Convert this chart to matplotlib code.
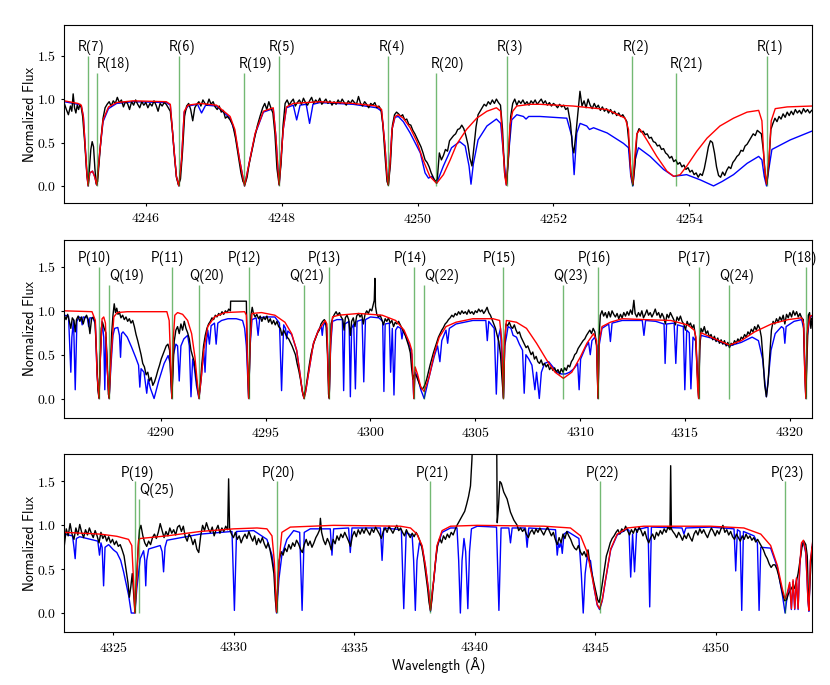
import numpy as np
import matplotlib.pyplot as plt
from matplotlib.ticker import MultipleLocator

plt.rcParams['font.family'] = 'cmr10'
plt.rcParams['axes.formatter.use_mathtext'] = True
plt.rcParams['axes.unicode_minus'] = False
TEXT_FONT = ['cmss10', 'DejaVu Sans']

# ---------------- panel 1 : R branch ----------------
lines1_wl = [4245.15, 4245.28, 4246.49, 4247.45, 4247.96, 4249.57, 4250.27, 4251.31, 4253.16, 4253.80, 4255.14]
lines1_lab = ['R(7)', 'R(18)', 'R(6)', 'R(19)', 'R(5)', 'R(4)', 'R(20)', 'R(3)', 'R(2)', 'R(21)', 'R(1)']
lines1_top = [1.5, 1.3, 1.5, 1.3, 1.5, 1.5, 1.3, 1.5, 1.5, 1.3, 1.5]
lines1_labx = [4245.20, 4245.53, 4246.53, 4247.61, 4248.00, 4249.62, 4250.44, 4251.36, 4253.22, 4253.96, 4255.19]

red1 = [(4244.80, 0.98), (4245.00, 0.95), (4245.05, 0.93), (4245.08, 0.80), (4245.12, 0.30), (4245.135, 0.11),
        (4245.15, 0.00), (4245.175, 0.15), (4245.215, 0.17), (4245.245, 0.11), (4245.278, 0.01), (4245.32, 0.38),
        (4245.37, 0.76), (4245.45, 0.91), (4245.57, 0.96), (4245.81, 0.98), (4246.30, 0.97), (4246.36, 0.94),
        (4246.41, 0.46), (4246.45, 0.11), (4246.486, 0.00), (4246.525, 0.30), (4246.565, 0.86), (4246.62, 0.93),
        (4246.80, 0.95), (4247.04, 0.93), (4247.24, 0.80), (4247.31, 0.65), (4247.38, 0.30), (4247.453, 0.00),
        (4247.53, 0.30), (4247.61, 0.61), (4247.73, 0.86), (4247.875, 0.90), (4247.914, 0.57), (4247.944, 0.20),
        (4247.963, 0.01), (4247.988, 0.30), (4248.022, 0.65), (4248.07, 0.91), (4248.17, 0.95), (4248.56, 0.97),
        (4249.05, 0.95), (4249.40, 0.92), (4249.47, 0.88), (4249.52, 0.46), (4249.549, 0.12), (4249.569, 0.01),
        (4249.593, 0.25), (4249.623, 0.65), (4249.667, 0.80), (4249.716, 0.82), (4249.79, 0.78), (4249.89, 0.67),
        (4249.99, 0.51), (4250.08, 0.30), (4250.18, 0.11), (4250.28, 0.03), (4250.38, 0.13), (4250.48, 0.30),
        (4250.575, 0.48), (4250.72, 0.65), (4250.87, 0.78), (4251.02, 0.86), (4251.16, 0.90), (4251.223, 0.86),
        (4251.262, 0.38), (4251.287, 0.10), (4251.306, 0.01), (4251.331, 0.30), (4251.36, 0.70), (4251.40, 0.86),
        (4251.46, 0.92), (4251.66, 0.94), (4251.80, 0.94), (4252.29, 0.92), (4252.79, 0.88), (4253.055, 0.78),
        (4253.104, 0.65), (4253.138, 0.15), (4253.168, 0.02), (4253.192, 0.30), (4253.227, 0.60), (4253.276, 0.65),
        (4253.374, 0.53), (4253.52, 0.34), (4253.67, 0.17), (4253.77, 0.11), (4253.865, 0.13), (4253.963, 0.23),
        (4254.11, 0.40), (4254.26, 0.55), (4254.45, 0.69), (4254.65, 0.78), (4254.85, 0.85), (4255.02, 0.87),
        (4255.068, 0.75), (4255.102, 0.25), (4255.136, 0.02), (4255.171, 0.30), (4255.205, 0.75), (4255.264, 0.89),
        (4255.44, 0.91), (4255.80, 0.92)]

blue1 = [(4244.80, 0.97), (4245.00, 0.94), (4245.05, 0.92), (4245.08, 0.80), (4245.12, 0.30), (4245.135, 0.11),
         (4245.15, 0.00), (4245.175, 0.15), (4245.215, 0.17), (4245.245, 0.11), (4245.278, 0.01), (4245.32, 0.38),
         (4245.37, 0.74), (4245.45, 0.89), (4245.57, 0.95), (4245.81, 0.97), (4246.30, 0.96), (4246.36, 0.93),
         (4246.41, 0.46), (4246.45, 0.11), (4246.486, 0.00), (4246.525, 0.30), (4246.565, 0.85), (4246.62, 0.92),
         (4246.76, 0.94), (4246.82, 0.84), (4246.88, 0.93), (4247.04, 0.92), (4247.24, 0.78), (4247.31, 0.62),
         (4247.38, 0.30), (4247.453, 0.00), (4247.53, 0.30), (4247.61, 0.60), (4247.73, 0.85), (4247.875, 0.89),
         (4247.914, 0.57), (4247.944, 0.20), (4247.963, 0.01), (4247.988, 0.30), (4248.022, 0.65), (4248.07, 0.90),
         (4248.17, 0.93), (4248.22, 0.76), (4248.27, 0.93), (4248.36, 0.94), (4248.41, 0.72), (4248.46, 0.94),
         (4248.56, 0.96), (4249.05, 0.94), (4249.40, 0.90), (4249.47, 0.86), (4249.52, 0.46), (4249.549, 0.12),
         (4249.569, 0.01), (4249.593, 0.25), (4249.623, 0.65), (4249.667, 0.79), (4249.716, 0.80), (4249.79, 0.74),
         (4249.89, 0.61), (4250.04, 0.38), (4250.11, 0.15), (4250.16, 0.09), (4250.21, 0.11), (4250.28, 0.03),
         (4250.38, 0.23), (4250.50, 0.44), (4250.62, 0.51), (4250.70, 0.46), (4250.757, 0.23), (4250.786, 0.02),
         (4250.82, 0.25), (4250.89, 0.53), (4251.02, 0.69), (4251.16, 0.77), (4251.223, 0.72), (4251.262, 0.38),
         (4251.306, 0.01), (4251.341, 0.38), (4251.385, 0.76), (4251.46, 0.82), (4251.557, 0.80), (4251.596, 0.77),
         (4251.635, 0.80), (4251.80, 0.80), (4252.196, 0.78), (4252.27, 0.57), (4252.304, 0.13), (4252.343, 0.61),
         (4252.392, 0.72), (4252.49, 0.69), (4252.53, 0.65), (4252.59, 0.67), (4252.79, 0.61), (4253.03, 0.49),
         (4253.104, 0.44), (4253.138, 0.11), (4253.168, 0.00), (4253.202, 0.30), (4253.251, 0.44), (4253.423, 0.34),
         (4253.62, 0.19), (4253.77, 0.11), (4253.96, 0.13), (4254.16, 0.07), (4254.356, 0.00), (4254.48, 0.05),
         (4254.65, 0.13), (4254.85, 0.26), (4255.02, 0.34), (4255.068, 0.30), (4255.102, 0.11), (4255.136, 0.00),
         (4255.171, 0.20), (4255.215, 0.42), (4255.485, 0.53), (4255.80, 0.63)]

obs1 = [(4244.80, 0.95), (4244.83, 0.88), (4244.86, 0.82), (4244.89, 0.92), (4244.91, 0.86), (4244.93, 1.06),
        (4244.95, 0.90), (4244.97, 0.84), (4244.99, 0.93), (4245.01, 0.88), (4245.03, 0.94), (4245.05, 0.90),
        (4245.07, 0.80), (4245.10, 0.50), (4245.13, 0.15), (4245.15, 0.02), (4245.17, 0.20), (4245.19, 0.42),
        (4245.21, 0.51), (4245.23, 0.45), (4245.25, 0.20), (4245.27, 0.02), (4245.29, 0.05), (4245.31, 0.25),
        (4245.34, 0.55), (4245.37, 0.78), (4245.40, 0.90), (4245.43, 0.94), (4245.46, 0.97), (4245.49, 0.92),
        (4245.52, 0.98), (4245.55, 0.95), (4245.58, 1.02), (4245.61, 0.96), (4245.64, 0.99), (4245.67, 0.91),
        (4245.70, 0.97), (4245.73, 0.95), (4245.76, 0.88), (4245.79, 0.97), (4245.82, 0.93), (4245.85, 0.99),
        (4245.88, 0.94), (4245.91, 0.90), (4245.94, 0.97), (4245.97, 0.93), (4246.00, 0.96), (4246.03, 0.90),
        (4246.06, 0.95), (4246.09, 0.92), (4246.12, 0.98), (4246.15, 0.93), (4246.18, 0.86), (4246.21, 0.95),
        (4246.24, 0.92), (4246.27, 0.96), (4246.30, 0.94), (4246.33, 0.90), (4246.36, 0.86), (4246.39, 0.65),
        (4246.42, 0.35), (4246.45, 0.10), (4246.48, 0.01), (4246.51, 0.08), (4246.54, 0.40), (4246.57, 0.80),
        (4246.60, 0.92), (4246.63, 0.95), (4246.66, 0.88), (4246.69, 0.75), (4246.72, 0.90), (4246.75, 0.94),
        (4246.78, 0.97), (4246.81, 0.92), (4246.84, 0.99), (4246.87, 0.95), (4246.90, 0.93), (4246.93, 1.00),
        (4246.96, 0.94), (4246.99, 0.97), (4247.02, 0.91), (4247.05, 0.88), (4247.08, 0.92), (4247.11, 0.85),
        (4247.14, 0.87), (4247.17, 0.78), (4247.20, 0.80), (4247.24, 0.76), (4247.28, 0.70), (4247.32, 0.55),
        (4247.36, 0.35), (4247.40, 0.15), (4247.43, 0.05), (4247.46, 0.02), (4247.49, 0.10), (4247.52, 0.25),
        (4247.56, 0.40), (4247.60, 0.55), (4247.64, 0.69), (4247.68, 0.80), (4247.72, 0.90), (4247.75, 0.95),
        (4247.78, 0.88), (4247.81, 0.97), (4247.84, 0.90), (4247.87, 0.84), (4247.90, 0.60), (4247.93, 0.20),
        (4247.96, 0.02), (4247.99, 0.25), (4248.02, 0.70), (4248.05, 0.95), (4248.08, 0.99), (4248.11, 0.93),
        (4248.14, 0.97), (4248.17, 1.00), (4248.20, 0.92), (4248.23, 0.96), (4248.26, 0.99), (4248.29, 0.94),
        (4248.32, 1.01), (4248.35, 0.96), (4248.38, 0.93), (4248.41, 0.98), (4248.44, 1.02), (4248.47, 0.95),
        (4248.50, 0.99), (4248.53, 0.96), (4248.56, 1.01), (4248.59, 0.94), (4248.62, 0.97), (4248.65, 1.00),
        (4248.68, 0.95), (4248.71, 0.98), (4248.74, 0.93), (4248.77, 0.97), (4248.80, 0.94), (4248.83, 0.99),
        (4248.86, 0.95), (4248.89, 1.00), (4248.92, 0.96), (4248.95, 0.93), (4248.98, 0.98), (4249.01, 0.95),
        (4249.04, 0.99), (4249.07, 0.96), (4249.10, 0.94), (4249.13, 1.03), (4249.16, 0.95), (4249.19, 0.92),
        (4249.22, 0.97), (4249.25, 0.94), (4249.28, 0.90), (4249.31, 0.95), (4249.34, 0.93), (4249.37, 0.96),
        (4249.40, 0.90), (4249.43, 0.92), (4249.46, 0.88), (4249.49, 0.70), (4249.52, 0.35), (4249.55, 0.05),
        (4249.57, 0.01), (4249.60, 0.25), (4249.63, 0.70), (4249.66, 0.82), (4249.69, 0.85), (4249.72, 0.83),
        (4249.75, 0.80), (4249.78, 0.82), (4249.81, 0.76), (4249.84, 0.77), (4249.87, 0.71), (4249.90, 0.70),
        (4249.93, 0.64), (4249.96, 0.60), (4249.99, 0.55), (4250.02, 0.50), (4250.05, 0.45), (4250.08, 0.38),
        (4250.11, 0.30), (4250.14, 0.27), (4250.17, 0.22), (4250.20, 0.15), (4250.23, 0.10), (4250.26, 0.05),
        (4250.29, 0.08), (4250.32, 0.38), (4250.35, 0.30), (4250.38, 0.35), (4250.41, 0.42), (4250.44, 0.40),
        (4250.47, 0.52), (4250.50, 0.55), (4250.53, 0.58), (4250.56, 0.60), (4250.59, 0.65), (4250.62, 0.66),
        (4250.65, 0.70), (4250.68, 0.66), (4250.71, 0.58), (4250.74, 0.48), (4250.77, 0.32), (4250.80, 0.23),
        (4250.83, 0.45), (4250.86, 0.68), (4250.89, 0.82), (4250.92, 0.86), (4250.95, 0.90), (4250.98, 0.94),
        (4251.01, 0.92), (4251.04, 0.97), (4251.07, 0.94), (4251.10, 0.99), (4251.13, 0.95), (4251.16, 1.00),
        (4251.19, 0.96), (4251.22, 0.93), (4251.25, 0.65), (4251.28, 0.15), (4251.31, 0.02), (4251.34, 0.35),
        (4251.37, 0.80), (4251.40, 0.95), (4251.43, 1.00), (4251.46, 0.93), (4251.49, 0.98), (4251.52, 0.95),
        (4251.55, 0.99), (4251.58, 0.94), (4251.61, 0.97), (4251.64, 0.93), (4251.67, 0.98), (4251.70, 0.95),
        (4251.73, 0.99), (4251.76, 0.94), (4251.79, 0.97), (4251.82, 1.00), (4251.85, 0.95), (4251.88, 0.98),
        (4251.91, 0.93), (4251.94, 0.96), (4251.97, 0.92), (4252.00, 0.95), (4252.03, 0.93), (4252.06, 0.90),
        (4252.09, 0.94), (4252.12, 0.91), (4252.15, 0.93), (4252.18, 0.88), (4252.21, 0.90), (4252.25, 0.72),
        (4252.28, 0.45), (4252.30, 0.38), (4252.33, 0.60), (4252.36, 0.85), (4252.39, 1.09), (4252.42, 0.92),
        (4252.45, 0.98), (4252.48, 0.90), (4252.51, 1.00), (4252.54, 0.93), (4252.57, 0.89), (4252.60, 0.95),
        (4252.63, 0.90), (4252.66, 0.93), (4252.69, 0.87), (4252.72, 0.91), (4252.75, 0.86), (4252.78, 0.89),
        (4252.81, 0.84), (4252.84, 0.88), (4252.87, 0.83), (4252.90, 0.86), (4252.93, 0.81), (4252.96, 0.84),
        (4252.99, 0.80), (4253.02, 0.82), (4253.05, 0.78), (4253.08, 0.74), (4253.11, 0.50), (4253.14, 0.15),
        (4253.17, 0.01), (4253.20, 0.25), (4253.23, 0.60), (4253.26, 0.66), (4253.29, 0.62), (4253.32, 0.63),
        (4253.35, 0.59), (4253.38, 0.60), (4253.41, 0.55), (4253.44, 0.56), (4253.47, 0.51), (4253.50, 0.50),
        (4253.53, 0.46), (4253.56, 0.47), (4253.59, 0.42), (4253.62, 0.43), (4253.65, 0.38), (4253.68, 0.36),
        (4253.71, 0.32), (4253.74, 0.34), (4253.77, 0.28), (4253.80, 0.30), (4253.83, 0.25), (4253.86, 0.27),
        (4253.89, 0.22), (4253.92, 0.24), (4253.95, 0.19), (4253.98, 0.21), (4254.01, 0.16), (4254.04, 0.18),
        (4254.07, 0.13), (4254.10, 0.15), (4254.13, 0.10), (4254.16, 0.14), (4254.19, 0.12), (4254.22, 0.20),
        (4254.25, 0.32), (4254.28, 0.45), (4254.31, 0.52), (4254.34, 0.50), (4254.37, 0.38), (4254.40, 0.22),
        (4254.43, 0.12), (4254.46, 0.10), (4254.49, 0.16), (4254.52, 0.12), (4254.55, 0.18), (4254.58, 0.22),
        (4254.61, 0.20), (4254.64, 0.27), (4254.67, 0.30), (4254.70, 0.34), (4254.73, 0.36), (4254.76, 0.41),
        (4254.79, 0.40), (4254.82, 0.46), (4254.85, 0.48), (4254.88, 0.52), (4254.91, 0.56), (4254.94, 0.60),
        (4254.97, 0.58), (4255.00, 0.64), (4255.03, 0.62), (4255.06, 0.60), (4255.09, 0.40), (4255.12, 0.10),
        (4255.14, 0.02), (4255.17, 0.25), (4255.20, 0.65), (4255.23, 0.72), (4255.26, 0.78), (4255.29, 0.74),
        (4255.32, 0.80), (4255.35, 0.77), (4255.38, 0.83), (4255.41, 0.79), (4255.44, 0.85), (4255.47, 0.81),
        (4255.50, 0.86), (4255.53, 0.82), (4255.56, 0.88), (4255.59, 0.84), (4255.62, 0.87), (4255.65, 0.83),
        (4255.68, 0.89), (4255.71, 0.85), (4255.74, 0.88), (4255.77, 0.84), (4255.80, 0.87)]

# ---------------- panel 2 : P and Q branches ----------------
lines2_wl = [4287.05, 4287.53, 4290.53, 4291.82, 4294.19, 4296.83, 4298.03, 4302.06, 4302.56, 4306.34,
             4309.20, 4310.85, 4315.65, 4317.12, 4320.76]
lines2_lab = ['P(10)', 'Q(19)', 'P(11)', 'Q(20)', 'P(12)', 'Q(21)', 'P(13)', 'P(14)', 'Q(22)', 'P(15)',
              'Q(23)', 'P(16)', 'P(17)', 'Q(24)', 'P(18)']
lines2_top = [1.5, 1.3, 1.5, 1.3, 1.5, 1.3, 1.5, 1.5, 1.3, 1.5, 1.3, 1.5, 1.5, 1.3, 1.5]
lines2_labx = [4286.83, 4288.37, 4290.32, 4292.18, 4293.98, 4296.98, 4297.82, 4301.89, 4303.41, 4306.13,
               4309.54, 4310.66, 4315.44, 4317.48, 4320.53]

red2 = [(4285.40, 1.00), (4286.72, 0.99), (4286.88, 0.89), (4286.96, 0.28), (4287.055, 0.00), (4287.12, 0.47),
        (4287.20, 0.91), (4287.28, 0.93), (4287.36, 0.86), (4287.44, 0.36), (4287.535, 0.00), (4287.63, 0.47),
        (4287.76, 0.93), (4287.92, 0.98), (4288.40, 0.99), (4290.29, 0.99), (4290.40, 0.89), (4290.48, 0.36),
        (4290.527, 0.00), (4290.59, 0.66), (4290.67, 0.95), (4290.80, 0.98), (4291.04, 0.96), (4291.28, 0.89),
        (4291.47, 0.74), (4291.63, 0.47), (4291.76, 0.13), (4291.82, 0.00), (4291.92, 0.21), (4292.05, 0.55),
        (4292.24, 0.82), (4292.56, 0.93), (4293.04, 0.98), (4294.00, 0.99), (4294.08, 0.95), (4294.14, 0.36),
        (4294.19, 0.00), (4294.26, 0.66), (4294.35, 0.97), (4294.80, 0.98), (4295.44, 0.95), (4295.92, 0.87),
        (4296.24, 0.74), (4296.48, 0.55), (4296.64, 0.28), (4296.75, 0.08), (4296.83, 0.00), (4296.91, 0.08),
        (4297.04, 0.28), (4297.28, 0.63), (4297.52, 0.78), (4297.84, 0.89), (4297.92, 0.85), (4297.98, 0.28),
        (4298.03, 0.00), (4298.10, 0.66), (4298.19, 0.93), (4298.48, 0.95), (4299.44, 0.97), (4300.56, 0.95),
        (4301.20, 0.89), (4301.60, 0.78), (4301.87, 0.63), (4301.97, 0.55), (4302.02, 0.28), (4302.065, 0.00),
        (4302.13, 0.36), (4302.24, 0.28), (4302.40, 0.13), (4302.56, 0.08), (4302.80, 0.25), (4303.04, 0.51),
        (4303.28, 0.70), (4303.60, 0.82), (4304.08, 0.87), (4304.88, 0.91), (4305.84, 0.91), (4306.16, 0.89),
        (4306.26, 0.66), (4306.34, 0.00), (4306.40, 0.66), (4306.48, 0.89), (4306.96, 0.87), (4307.44, 0.80),
        (4307.92, 0.63), (4308.40, 0.44), (4308.80, 0.30), (4309.20, 0.23), (4309.60, 0.30), (4310.00, 0.47),
        (4310.32, 0.63), (4310.64, 0.74), (4310.78, 0.66), (4310.85, 0.00), (4310.91, 0.66), (4311.04, 0.82),
        (4311.44, 0.87), (4312.00, 0.91), (4313.04, 0.90), (4314.32, 0.89), (4315.12, 0.84), (4315.44, 0.78),
        (4315.52, 0.70), (4315.60, 0.13), (4315.65, 0.00), (4315.70, 0.66), (4315.76, 0.75), (4316.24, 0.70),
        (4316.72, 0.65), (4317.12, 0.61), (4317.68, 0.66), (4318.32, 0.76), (4319.12, 0.85), (4319.92, 0.90),
        (4320.56, 0.92), (4320.66, 0.85), (4320.71, 0.28), (4320.76, 0.00), (4320.82, 0.74), (4320.96, 0.94),
        (4321.10, 0.95)]

blue2 = [(4285.40, 0.95), (4285.60, 0.94), (4285.66, 0.60), (4285.71, 0.30), (4285.76, 0.70), (4285.84, 0.90),
         (4285.92, 0.10), (4286.00, 0.88), (4286.10, 0.93), (4286.20, 0.92), (4286.25, 0.84), (4286.30, 0.93),
         (4286.50, 0.92), (4286.56, 0.82), (4286.62, 0.92), (4286.76, 0.92), (4286.88, 0.85), (4286.96, 0.28),
         (4287.055, 0.00), (4287.12, 0.47), (4287.20, 0.88), (4287.28, 0.70), (4287.33, 0.10), (4287.38, 0.70),
         (4287.44, 0.36), (4287.535, 0.00), (4287.63, 0.40), (4287.72, 0.72), (4287.80, 0.80), (4287.95, 0.81),
         (4288.03, 0.72), (4288.08, 0.47), (4288.13, 0.74), (4288.20, 0.76), (4288.40, 0.70), (4288.60, 0.59),
         (4288.80, 0.47), (4288.94, 0.38), (4289.00, 0.13), (4289.06, 0.34), (4289.20, 0.30), (4289.33, 0.06),
         (4289.40, 0.22), (4289.50, 0.12), (4289.68, 0.00), (4289.90, 0.20), (4290.16, 0.40), (4290.35, 0.49),
         (4290.45, 0.40), (4290.527, 0.00), (4290.60, 0.50), (4290.72, 0.62), (4290.80, 0.60), (4290.88, 0.20),
         (4290.96, 0.60), (4291.10, 0.68), (4291.28, 0.72), (4291.36, 0.60), (4291.44, 0.02), (4291.52, 0.45),
         (4291.60, 0.35), (4291.70, 0.15), (4291.82, 0.00), (4291.92, 0.21), (4292.05, 0.55), (4292.11, 0.30),
         (4292.17, 0.62), (4292.24, 0.78), (4292.32, 0.62), (4292.40, 0.83), (4292.56, 0.86), (4292.64, 0.62),
         (4292.72, 0.86), (4292.90, 0.89), (4293.20, 0.91), (4293.60, 0.91), (4293.90, 0.89), (4294.00, 0.80),
         (4294.08, 0.60), (4294.19, 0.00), (4294.26, 0.60), (4294.35, 0.90), (4294.55, 0.92), (4294.64, 0.72),
         (4294.72, 0.92), (4295.00, 0.93), (4295.44, 0.93), (4295.66, 0.86), (4295.76, 0.09), (4295.86, 0.84),
         (4295.95, 0.80), (4296.00, 0.68), (4296.06, 0.77), (4296.24, 0.73), (4296.48, 0.55), (4296.64, 0.28),
         (4296.75, 0.08), (4296.83, 0.00), (4296.91, 0.08), (4297.04, 0.28), (4297.28, 0.63), (4297.52, 0.78),
         (4297.65, 0.83), (4297.70, 0.72), (4297.75, 0.83), (4297.84, 0.87), (4297.92, 0.80), (4298.03, 0.00),
         (4298.10, 0.60), (4298.19, 0.88), (4298.40, 0.90), (4298.66, 0.90), (4298.72, 0.09), (4298.78, 0.85),
         (4298.98, 0.88), (4299.04, 0.02), (4299.10, 0.80), (4299.20, 0.85), (4299.28, 0.11), (4299.36, 0.88),
         (4299.60, 0.90), (4299.68, 0.19), (4299.76, 0.90), (4300.00, 0.93), (4300.40, 0.92), (4300.58, 0.88),
         (4300.64, 0.08), (4300.70, 0.85), (4300.90, 0.86), (4300.96, 0.30), (4301.04, 0.80), (4301.12, 0.04),
         (4301.20, 0.78), (4301.30, 0.82), (4301.44, 0.80), (4301.50, 0.68), (4301.56, 0.78), (4301.60, 0.76),
         (4301.87, 0.60), (4301.97, 0.50), (4302.065, 0.00), (4302.13, 0.30), (4302.24, 0.25), (4302.40, 0.10),
         (4302.56, 0.00), (4302.80, 0.25), (4303.04, 0.48), (4303.20, 0.60), (4303.31, 0.42), (4303.40, 0.66),
         (4303.60, 0.78), (4303.68, 0.63), (4303.76, 0.80), (4304.08, 0.85), (4304.88, 0.89), (4305.50, 0.89),
         (4305.57, 0.66), (4305.64, 0.88), (4305.90, 0.80), (4306.00, 0.05), (4306.10, 0.70), (4306.20, 0.80),
         (4306.34, 0.00), (4306.40, 0.60), (4306.48, 0.70), (4306.56, 0.82), (4306.70, 0.80), (4306.80, 0.72),
         (4306.96, 0.70), (4307.10, 0.62), (4307.25, 0.55), (4307.33, 0.06), (4307.41, 0.50), (4307.55, 0.45),
         (4307.70, 0.38), (4307.84, 0.10), (4307.92, 0.30), (4308.05, 0.00), (4308.15, 0.30), (4308.30, 0.40),
         (4308.50, 0.42), (4308.70, 0.36), (4308.90, 0.30), (4309.10, 0.28), (4309.30, 0.28), (4309.50, 0.30),
         (4309.70, 0.34), (4309.88, 0.40), (4309.95, 0.10), (4310.02, 0.45), (4310.25, 0.58), (4310.40, 0.64),
         (4310.48, 0.50), (4310.56, 0.66), (4310.70, 0.70), (4310.80, 0.60), (4310.85, 0.00), (4310.90, 0.60),
         (4311.04, 0.80), (4311.36, 0.85), (4311.44, 0.65), (4311.52, 0.86), (4312.00, 0.89), (4312.96, 0.89),
         (4313.04, 0.72), (4313.12, 0.89), (4313.60, 0.88), (4314.00, 0.85), (4314.05, 0.40), (4314.12, 0.85),
         (4314.48, 0.86), (4314.56, 0.40), (4314.64, 0.84), (4314.92, 0.82), (4314.99, 0.10), (4315.08, 0.78),
         (4315.20, 0.75), (4315.28, 0.11), (4315.38, 0.70), (4315.52, 0.65), (4315.65, 0.00), (4315.70, 0.60),
         (4315.76, 0.72), (4316.24, 0.69), (4316.72, 0.64), (4317.12, 0.60), (4317.68, 0.64), (4318.20, 0.70),
         (4318.50, 0.66), (4318.70, 0.45), (4318.80, 0.20), (4318.88, 0.02), (4318.96, 0.20), (4319.10, 0.55),
         (4319.30, 0.74), (4319.60, 0.82), (4319.70, 0.80), (4319.76, 0.63), (4319.82, 0.82), (4320.20, 0.88),
         (4320.56, 0.90), (4320.66, 0.80), (4320.76, 0.00), (4320.82, 0.70), (4320.96, 0.93), (4321.10, 0.94)]

obs2 = [(4285.40, 0.95), (4285.48, 0.90), (4285.56, 0.96), (4285.64, 0.88), (4285.71, 0.80), (4285.78, 0.92),
        (4285.86, 0.89), (4285.92, 0.76), (4285.98, 0.90), (4286.06, 0.94), (4286.14, 0.88), (4286.22, 0.93),
        (4286.30, 0.85), (4286.38, 0.92), (4286.46, 0.95), (4286.54, 0.90), (4286.62, 0.74), (4286.70, 0.91),
        (4286.78, 0.93), (4286.86, 0.88), (4286.94, 0.50), (4287.00, 0.10), (4287.05, 0.01), (4287.10, 0.35),
        (4287.16, 0.80), (4287.22, 0.87), (4287.30, 0.80), (4287.38, 0.75), (4287.44, 0.45), (4287.50, 0.05),
        (4287.54, 0.01), (4287.60, 0.40), (4287.66, 0.75), (4287.72, 0.95), (4287.78, 1.08), (4287.84, 0.98),
        (4287.90, 1.03), (4287.96, 0.96), (4288.02, 0.99), (4288.10, 0.92), (4288.18, 0.95), (4288.26, 0.90),
        (4288.34, 0.93), (4288.42, 0.88), (4288.50, 0.91), (4288.58, 0.86), (4288.66, 0.89), (4288.74, 0.82),
        (4288.82, 0.73), (4288.90, 0.66), (4288.98, 0.58), (4289.06, 0.50), (4289.14, 0.40), (4289.22, 0.36),
        (4289.30, 0.27), (4289.38, 0.30), (4289.46, 0.20), (4289.54, 0.24), (4289.62, 0.15), (4289.70, 0.19),
        (4289.78, 0.25), (4289.86, 0.32), (4289.94, 0.38), (4290.02, 0.45), (4290.10, 0.50), (4290.18, 0.55),
        (4290.26, 0.60), (4290.34, 0.62), (4290.42, 0.55), (4290.48, 0.20), (4290.53, 0.01), (4290.58, 0.30),
        (4290.64, 0.65), (4290.72, 0.78), (4290.80, 0.82), (4290.88, 0.74), (4290.96, 0.85), (4291.04, 0.78),
        (4291.12, 0.88), (4291.20, 0.80), (4291.28, 0.75), (4291.36, 0.68), (4291.44, 0.55), (4291.52, 0.48),
        (4291.60, 0.42), (4291.68, 0.25), (4291.76, 0.10), (4291.82, 0.02), (4291.88, 0.15), (4291.96, 0.40),
        (4292.04, 0.60), (4292.12, 0.72), (4292.20, 0.80), (4292.28, 0.85), (4292.36, 0.88), (4292.44, 0.92),
        (4292.52, 0.90), (4292.60, 0.95), (4292.68, 0.93), (4292.76, 0.97), (4292.84, 0.95), (4292.92, 0.99),
        (4293.00, 0.96), (4293.08, 1.00), (4293.16, 0.98), (4293.24, 1.02), (4293.32, 1.00), (4293.33, 1.11),
        (4294.08, 1.11), (4294.09, 0.97), (4294.14, 0.40), (4294.19, 0.01), (4294.24, 0.45), (4294.30, 0.95),
        (4294.36, 1.04), (4294.42, 0.97), (4294.50, 0.93), (4294.58, 0.96), (4294.66, 0.91), (4294.74, 0.94),
        (4294.82, 0.88), (4294.90, 0.93), (4294.98, 0.90), (4295.06, 0.94), (4295.14, 0.87), (4295.22, 0.91),
        (4295.30, 0.85), (4295.38, 0.89), (4295.46, 0.84), (4295.54, 0.88), (4295.62, 0.82), (4295.70, 0.80),
        (4295.78, 0.72), (4295.86, 0.78), (4295.94, 0.74), (4296.02, 0.70), (4296.10, 0.68), (4296.18, 0.64),
        (4296.26, 0.60), (4296.34, 0.55), (4296.42, 0.50), (4296.50, 0.40), (4296.58, 0.32), (4296.66, 0.22),
        (4296.74, 0.10), (4296.80, 0.03), (4296.86, 0.05), (4296.92, 0.12), (4297.00, 0.25), (4297.08, 0.38),
        (4297.16, 0.50), (4297.24, 0.58), (4297.32, 0.65), (4297.40, 0.70), (4297.48, 0.75), (4297.56, 0.78),
        (4297.64, 0.85), (4297.72, 0.88), (4297.80, 0.90), (4297.88, 0.84), (4297.95, 0.50), (4298.00, 0.05),
        (4298.03, 0.01), (4298.07, 0.40), (4298.12, 0.85), (4298.20, 0.92), (4298.28, 0.96), (4298.36, 0.99),
        (4298.44, 0.95), (4298.52, 0.98), (4298.60, 0.93), (4298.68, 0.90), (4298.74, 0.78), (4298.80, 0.92),
        (4298.88, 0.95), (4298.96, 0.90), (4299.04, 0.72), (4299.10, 0.88), (4299.18, 0.92), (4299.26, 0.82),
        (4299.34, 0.94), (4299.42, 0.97), (4299.50, 0.93), (4299.58, 0.96), (4299.66, 0.85), (4299.74, 0.96),
        (4299.82, 1.00), (4299.90, 0.97), (4299.98, 1.02), (4300.06, 1.00), (4300.12, 1.06), (4300.18, 1.12),
        (4300.21, 1.37), (4300.24, 1.05), (4300.30, 0.96), (4300.38, 0.93), (4300.46, 0.95), (4300.54, 0.90),
        (4300.62, 0.84), (4300.70, 0.91), (4300.78, 0.88), (4300.86, 0.92), (4300.94, 0.86), (4301.02, 0.89),
        (4301.10, 0.82), (4301.18, 0.87), (4301.26, 0.85), (4301.34, 0.88), (4301.42, 0.84), (4301.50, 0.80),
        (4301.58, 0.76), (4301.66, 0.72), (4301.74, 0.66), (4301.82, 0.60), (4301.90, 0.52), (4301.96, 0.35),
        (4302.02, 0.22), (4302.06, 0.26), (4302.12, 0.28), (4302.20, 0.25), (4302.28, 0.20), (4302.36, 0.15),
        (4302.44, 0.11), (4302.52, 0.12), (4302.60, 0.16), (4302.68, 0.22), (4302.76, 0.30), (4302.84, 0.38),
        (4302.92, 0.45), (4303.00, 0.52), (4303.08, 0.58), (4303.16, 0.64), (4303.24, 0.70), (4303.32, 0.74),
        (4303.40, 0.78), (4303.48, 0.81), (4303.56, 0.85), (4303.64, 0.87), (4303.72, 0.90), (4303.80, 0.92),
        (4303.88, 0.95), (4303.96, 0.93), (4304.04, 0.97), (4304.12, 0.95), (4304.20, 0.99), (4304.28, 0.96),
        (4304.36, 1.00), (4304.44, 0.97), (4304.52, 0.99), (4304.60, 0.96), (4304.68, 1.01), (4304.76, 0.97),
        (4304.84, 0.99), (4304.92, 0.96), (4305.00, 1.00), (4305.08, 0.98), (4305.16, 1.02), (4305.24, 0.99),
        (4305.32, 1.01), (4305.40, 0.97), (4305.48, 1.00), (4305.56, 1.04), (4305.64, 0.98), (4305.72, 0.95),
        (4305.80, 0.90), (4305.88, 0.85), (4305.96, 0.80), (4306.04, 0.72), (4306.12, 0.65), (4306.20, 0.50),
        (4306.28, 0.20), (4306.34, 0.01), (4306.40, 0.60), (4306.46, 0.85), (4306.54, 0.83), (4306.62, 0.87),
        (4306.70, 0.82), (4306.78, 0.80), (4306.86, 0.84), (4306.94, 0.78), (4307.02, 0.74), (4307.10, 0.76),
        (4307.18, 0.70), (4307.26, 0.66), (4307.34, 0.62), (4307.42, 0.58), (4307.50, 0.60), (4307.58, 0.55),
        (4307.66, 0.50), (4307.74, 0.53), (4307.82, 0.45), (4307.90, 0.48), (4307.98, 0.42), (4308.06, 0.40),
        (4308.14, 0.44), (4308.22, 0.38), (4308.30, 0.40), (4308.38, 0.36), (4308.46, 0.39), (4308.54, 0.33),
        (4308.62, 0.36), (4308.70, 0.32), (4308.78, 0.35), (4308.86, 0.30), (4308.94, 0.33), (4309.02, 0.28),
        (4309.10, 0.34), (4309.18, 0.30), (4309.26, 0.35), (4309.34, 0.32), (4309.42, 0.38), (4309.50, 0.36),
        (4309.58, 0.42), (4309.66, 0.45), (4309.74, 0.50), (4309.82, 0.52), (4309.90, 0.57), (4309.98, 0.60),
        (4310.06, 0.63), (4310.14, 0.66), (4310.22, 0.68), (4310.30, 0.72), (4310.38, 0.75), (4310.46, 0.78),
        (4310.54, 0.74), (4310.62, 0.80), (4310.70, 0.76), (4310.78, 0.60), (4310.85, 0.01), (4310.90, 0.70),
        (4310.96, 0.95), (4311.04, 1.00), (4311.12, 0.94), (4311.20, 0.98), (4311.28, 0.92), (4311.36, 0.99),
        (4311.44, 0.93), (4311.52, 1.00), (4311.60, 0.96), (4311.68, 0.93), (4311.76, 0.97), (4311.84, 0.91),
        (4311.92, 0.96), (4312.00, 0.92), (4312.08, 0.98), (4312.16, 0.94), (4312.24, 0.99), (4312.32, 0.95),
        (4312.40, 1.01), (4312.48, 0.96), (4312.56, 1.12), (4312.62, 0.97), (4312.70, 0.93), (4312.78, 0.98),
        (4312.86, 0.94), (4312.94, 1.00), (4313.02, 0.92), (4313.10, 0.96), (4313.18, 1.01), (4313.26, 0.95),
        (4313.34, 0.98), (4313.42, 0.93), (4313.50, 0.97), (4313.58, 1.02), (4313.66, 0.95), (4313.74, 0.98),
        (4313.82, 0.92), (4313.90, 0.97), (4313.98, 0.93), (4314.06, 0.85), (4314.14, 0.96), (4314.22, 0.92),
        (4314.30, 0.98), (4314.38, 0.94), (4314.46, 0.90), (4314.54, 0.84), (4314.62, 0.93), (4314.70, 0.89),
        (4314.78, 0.94), (4314.86, 0.88), (4314.94, 0.85), (4315.02, 0.78), (4315.10, 0.88), (4315.18, 0.83),
        (4315.26, 0.86), (4315.34, 0.80), (4315.42, 0.84), (4315.50, 0.70), (4315.58, 0.30), (4315.65, 0.01),
        (4315.70, 0.55), (4315.76, 0.80), (4315.84, 0.76), (4315.92, 0.82), (4316.00, 0.74), (4316.08, 0.77),
        (4316.16, 0.70), (4316.24, 0.73), (4316.32, 0.67), (4316.40, 0.71), (4316.48, 0.65), (4316.56, 0.69),
        (4316.64, 0.63), (4316.72, 0.67), (4316.80, 0.62), (4316.88, 0.66), (4316.96, 0.60), (4317.04, 0.64),
        (4317.12, 0.58), (4317.20, 0.63), (4317.28, 0.61), (4317.36, 0.66), (4317.44, 0.63), (4317.52, 0.68),
        (4317.60, 0.65), (4317.68, 0.70), (4317.76, 0.68), (4317.84, 0.73), (4317.92, 0.70), (4318.00, 0.76),
        (4318.08, 0.73), (4318.16, 0.79), (4318.24, 0.76), (4318.32, 0.82), (4318.40, 0.78), (4318.48, 0.84),
        (4318.56, 0.80), (4318.64, 0.70), (4318.72, 0.45), (4318.80, 0.15), (4318.88, 0.02), (4318.96, 0.18),
        (4319.04, 0.50), (4319.12, 0.78), (4319.20, 0.88), (4319.28, 0.85), (4319.36, 0.91), (4319.44, 0.87),
        (4319.52, 0.93), (4319.60, 0.89), (4319.68, 0.95), (4319.76, 0.85), (4319.84, 0.96), (4319.92, 0.92),
        (4320.00, 0.98), (4320.08, 0.93), (4320.16, 1.00), (4320.24, 0.95), (4320.32, 0.99), (4320.40, 0.93),
        (4320.48, 0.97), (4320.56, 0.92), (4320.64, 0.90), (4320.70, 0.40), (4320.76, 0.02), (4320.82, 0.50),
        (4320.88, 0.95), (4320.94, 0.98), (4321.00, 0.80), (4321.06, 0.92), (4321.10, 0.88)]

# ---------------- panel 3 : P branch, H-gamma region ----------------
lines3_wl = [4325.90, 4326.08, 4331.77, 4338.16, 4345.18, 4352.88]
lines3_lab = ['P(19)', 'Q(25)', 'P(20)', 'P(21)', 'P(22)', 'P(23)']
lines3_top = [1.5, 1.3, 1.5, 1.5, 1.5, 1.5]
lines3_labx = [4326.00, 4326.80, 4331.87, 4338.24, 4345.29, 4352.99]

red3 = [(4322.96, 0.92), (4324.45, 0.90), (4325.14, 0.875), (4325.625, 0.84), (4325.76, 0.77), (4325.83, 0.39),
        (4325.89, 0.00), (4325.97, 0.39), (4326.04, 0.83), (4326.11, 0.85), (4327.22, 0.88), (4328.60, 0.93),
        (4329.99, 0.96), (4330.96, 0.97), (4331.37, 0.96), (4331.58, 0.88), (4331.68, 0.58), (4331.77, 0.01),
        (4331.87, 0.58), (4331.99, 0.92), (4332.34, 0.98), (4334.14, 1.00), (4336.91, 0.99), (4337.33, 0.97),
        (4337.60, 0.90), (4337.81, 0.77), (4337.95, 0.54), (4338.09, 0.24), (4338.16, 0.03), (4338.23, 0.24),
        (4338.30, 0.39), (4338.43, 0.77), (4338.64, 0.94), (4338.99, 0.99), (4340.10, 1.00), (4342.87, 0.99),
        (4343.97, 0.97), (4344.39, 0.88), (4344.67, 0.69), (4344.94, 0.31), (4345.08, 0.10), (4345.18, 0.05),
        (4345.29, 0.15), (4345.43, 0.39), (4345.64, 0.73), (4345.91, 0.90), (4346.33, 0.97), (4347.02, 0.99),
        (4349.79, 0.99), (4351.17, 0.97), (4351.87, 0.90), (4352.28, 0.77), (4352.56, 0.54), (4352.77, 0.27),
        (4352.88, 0.16), (4352.97, 0.23), (4353.07, 0.35), (4353.14, 0.05), (4353.21, 0.38), (4353.28, 0.05),
        (4353.35, 0.40), (4353.42, 0.05), (4353.49, 0.55), (4353.56, 0.80), (4353.64, 0.83), (4353.74, 0.70),
        (4353.83, 0.15), (4353.87, 0.03), (4353.93, 0.60), (4354.04, 0.85)]

blue3 = [(4322.96, 0.90), (4323.30, 0.88), (4323.36, 0.75), (4323.41, 0.62), (4323.46, 0.85), (4323.60, 0.87),
         (4324.35, 0.82), (4324.42, 0.66), (4324.48, 0.80), (4324.53, 0.75), (4324.59, 0.31), (4324.65, 0.75),
         (4324.80, 0.78), (4325.00, 0.72), (4325.14, 0.69), (4325.30, 0.60), (4325.42, 0.47), (4325.53, 0.33),
         (4325.63, 0.20), (4325.74, 0.00), (4325.89, 0.00), (4325.97, 0.28), (4326.11, 0.62), (4326.25, 0.71),
         (4326.30, 0.60), (4326.34, 0.31), (4326.38, 0.60), (4326.46, 0.73), (4326.94, 0.77), (4327.02, 0.70),
         (4327.08, 0.47), (4327.14, 0.75), (4327.22, 0.83), (4328.60, 0.90), (4329.92, 0.93), (4330.02, 0.03),
         (4330.11, 0.93), (4330.82, 0.94), (4331.37, 0.84), (4331.58, 0.66), (4331.68, 0.47), (4331.77, 0.00),
         (4331.87, 0.39), (4331.99, 0.66), (4332.20, 0.84), (4332.48, 0.94), (4332.73, 0.92), (4332.83, 0.03),
         (4332.92, 0.92), (4333.17, 0.96), (4334.00, 0.96), (4334.07, 0.66), (4334.14, 0.96), (4334.76, 0.97),
         (4334.83, 0.69), (4334.90, 0.97), (4336.08, 0.97), (4336.15, 0.60), (4336.22, 0.97), (4336.95, 0.95),
         (4337.05, 0.05), (4337.15, 0.92), (4337.40, 0.88), (4337.46, 0.60), (4337.53, 0.03), (4337.60, 0.60),
         (4337.70, 0.80), (4337.81, 0.76), (4337.95, 0.53), (4338.09, 0.23), (4338.16, 0.02), (4338.23, 0.23),
         (4338.30, 0.38), (4338.43, 0.75), (4338.64, 0.92), (4338.99, 0.97), (4339.26, 0.97), (4339.33, 0.60),
         (4339.40, 0.00), (4339.47, 0.60), (4339.55, 0.85), (4339.62, 0.70), (4339.71, 0.05), (4339.78, 0.70),
         (4339.86, 0.96), (4340.10, 0.99), (4340.90, 0.98), (4341.00, 0.03), (4341.09, 0.97), (4341.41, 0.97),
         (4341.48, 0.80), (4341.55, 0.97), (4342.10, 0.97), (4342.17, 0.75), (4342.24, 0.97), (4343.35, 0.95),
         (4343.42, 0.66), (4343.48, 0.80), (4343.52, 0.75), (4343.58, 0.80), (4343.63, 0.68), (4343.70, 0.90),
         (4343.85, 0.93), (4344.32, 0.85), (4344.42, 0.45), (4344.50, 0.00), (4344.58, 0.45), (4344.67, 0.65),
         (4344.73, 0.60), (4344.80, 0.60), (4344.94, 0.30), (4345.08, 0.09), (4345.18, 0.04), (4345.29, 0.14),
         (4345.43, 0.38), (4345.64, 0.72), (4345.91, 0.89), (4346.33, 0.96), (4346.40, 0.94), (4346.47, 0.41),
         (4346.55, 0.90), (4346.63, 0.47), (4346.72, 0.95), (4347.19, 0.98), (4347.26, 0.07), (4347.33, 0.98),
         (4348.60, 0.97), (4348.68, 0.90), (4348.76, 0.97), (4349.79, 0.98), (4350.76, 0.96), (4350.83, 0.48),
         (4350.90, 0.95), (4351.01, 0.93), (4351.08, 0.03), (4351.15, 0.93), (4351.59, 0.88), (4351.73, 0.80),
         (4351.80, 0.03), (4351.87, 0.75), (4352.28, 0.74), (4352.56, 0.52), (4352.77, 0.20), (4352.88, 0.00),
         (4352.97, 0.20), (4353.07, 0.33), (4353.14, 0.04), (4353.21, 0.36), (4353.28, 0.04), (4353.35, 0.38),
         (4353.42, 0.04), (4353.49, 0.53), (4353.56, 0.78), (4353.64, 0.81), (4353.74, 0.68), (4353.83, 0.14),
         (4353.87, 0.02), (4353.93, 0.58), (4354.04, 0.83)]

obs3 = [(4322.96, 0.77), (4323.04, 0.96), (4323.12, 0.88), (4323.20, 1.02), (4323.28, 0.90), (4323.36, 0.84),
        (4323.44, 0.97), (4323.52, 0.89), (4323.60, 1.01), (4323.68, 0.92), (4323.76, 0.86), (4323.84, 0.95),
        (4323.92, 0.89), (4324.00, 0.97), (4324.08, 0.91), (4324.16, 0.86), (4324.24, 0.94), (4324.32, 0.88),
        (4324.40, 0.80), (4324.48, 0.92), (4324.56, 0.85), (4324.64, 0.89), (4324.72, 0.82), (4324.80, 0.87),
        (4324.88, 0.80), (4324.96, 0.84), (4325.04, 0.78), (4325.12, 0.82), (4325.20, 0.76), (4325.28, 0.78),
        (4325.36, 0.72), (4325.44, 0.65), (4325.52, 0.50), (4325.60, 0.35), (4325.66, 0.18), (4325.72, 0.30),
        (4325.78, 0.45), (4325.84, 0.20), (4325.89, 0.01), (4325.95, 0.35), (4326.02, 0.72), (4326.08, 0.95),
        (4326.14, 1.00), (4326.22, 0.88), (4326.30, 0.80), (4326.38, 0.76), (4326.46, 0.82), (4326.54, 0.78),
        (4326.62, 0.86), (4326.70, 0.90), (4326.78, 0.85), (4326.86, 0.92), (4326.94, 1.02), (4327.02, 0.94),
        (4327.10, 0.86), (4327.18, 0.93), (4327.26, 0.88), (4327.34, 0.97), (4327.42, 0.91), (4327.50, 0.95),
        (4327.58, 0.89), (4327.66, 0.98), (4327.74, 1.00), (4327.82, 0.93), (4327.90, 0.99), (4327.98, 0.87),
        (4328.06, 0.82), (4328.14, 0.90), (4328.22, 0.86), (4328.30, 0.78), (4328.38, 0.84), (4328.46, 0.73),
        (4328.54, 0.69), (4328.62, 0.88), (4328.70, 1.00), (4328.78, 0.94), (4328.86, 1.03), (4328.94, 0.96),
        (4329.02, 0.92), (4329.10, 0.98), (4329.18, 0.88), (4329.26, 0.95), (4329.34, 1.00), (4329.42, 0.91),
        (4329.50, 0.97), (4329.58, 0.93), (4329.66, 0.99), (4329.74, 0.95), (4329.78, 1.53), (4329.82, 0.96),
        (4329.90, 0.90), (4329.98, 0.86), (4330.06, 0.92), (4330.14, 0.84), (4330.22, 0.88), (4330.30, 0.80),
        (4330.38, 0.86), (4330.46, 0.90), (4330.54, 0.85), (4330.62, 0.93), (4330.70, 0.87), (4330.78, 0.82),
        (4330.86, 0.88), (4330.94, 0.78), (4331.02, 0.85), (4331.10, 0.80), (4331.18, 0.86), (4331.26, 0.79),
        (4331.34, 0.74), (4331.42, 0.80), (4331.50, 0.72), (4331.58, 0.60), (4331.66, 0.45), (4331.72, 0.15),
        (4331.77, 0.01), (4331.82, 0.30), (4331.88, 0.60), (4331.96, 0.70), (4332.04, 0.66), (4332.12, 0.74),
        (4332.20, 0.70), (4332.28, 0.78), (4332.36, 0.73), (4332.44, 0.80), (4332.52, 0.76), (4332.60, 0.83),
        (4332.68, 0.79), (4332.76, 0.73), (4332.84, 0.69), (4332.92, 0.78), (4333.00, 0.84), (4333.08, 0.77),
        (4333.16, 0.82), (4333.24, 0.75), (4333.32, 0.80), (4333.40, 0.86), (4333.48, 0.90), (4333.56, 0.95),
        (4333.59, 1.08), (4333.64, 0.92), (4333.72, 0.83), (4333.80, 0.78), (4333.88, 0.85), (4333.96, 0.80),
        (4334.04, 0.72), (4334.12, 0.84), (4334.20, 0.79), (4334.28, 0.88), (4334.36, 0.83), (4334.44, 0.90),
        (4334.52, 0.86), (4334.60, 0.92), (4334.68, 0.87), (4334.76, 0.82), (4334.84, 0.76), (4334.92, 0.88),
        (4335.00, 0.93), (4335.08, 0.87), (4335.16, 0.95), (4335.24, 0.90), (4335.32, 0.96), (4335.40, 0.91),
        (4335.48, 0.97), (4335.56, 0.93), (4335.64, 0.89), (4335.72, 0.96), (4335.80, 0.92), (4335.88, 0.98),
        (4335.96, 0.94), (4336.04, 0.90), (4336.12, 0.85), (4336.20, 0.93), (4336.28, 0.97), (4336.36, 0.92),
        (4336.44, 0.99), (4336.52, 0.95), (4336.60, 0.91), (4336.68, 0.96), (4336.76, 1.00), (4336.84, 0.94),
        (4336.92, 0.97), (4337.00, 0.92), (4337.08, 0.88), (4337.16, 0.95), (4337.24, 0.90), (4337.32, 0.86),
        (4337.40, 0.91), (4337.48, 0.87), (4337.56, 0.92), (4337.64, 0.88), (4337.72, 0.82), (4337.80, 0.75),
        (4337.88, 0.62), (4337.96, 0.45), (4338.04, 0.28), (4338.10, 0.12), (4338.16, 0.03), (4338.22, 0.15),
        (4338.30, 0.40), (4338.38, 0.62), (4338.46, 0.78), (4338.54, 0.85), (4338.62, 0.80), (4338.70, 0.88),
        (4338.78, 0.84), (4338.86, 0.90), (4338.94, 0.86), (4339.02, 0.92), (4339.10, 0.89), (4339.18, 0.95),
        (4339.26, 1.00), (4339.34, 1.04), (4339.42, 1.08), (4339.50, 1.12), (4339.58, 1.16), (4339.66, 1.24),
        (4339.74, 1.33), (4339.82, 1.45), (4339.88, 1.75), (4339.95, 2.30), (4340.30, 2.80), (4340.60, 2.60),
        (4340.90, 2.30), (4340.93, 1.03), (4340.98, 1.20), (4341.04, 1.50), (4341.10, 1.48), (4341.20, 1.38),
        (4341.34, 1.30), (4341.48, 1.15), (4341.62, 1.06), (4341.76, 1.00), (4341.82, 0.94), (4341.90, 0.97),
        (4341.98, 0.93), (4342.06, 0.96), (4342.14, 0.90), (4342.22, 0.86), (4342.30, 0.92), (4342.38, 0.95),
        (4342.46, 0.90), (4342.54, 0.96), (4342.62, 0.92), (4342.70, 0.97), (4342.78, 0.93), (4342.86, 0.89),
        (4342.94, 0.94), (4343.02, 0.98), (4343.10, 0.93), (4343.18, 0.88), (4343.26, 0.92), (4343.34, 0.84),
        (4343.42, 0.78), (4343.50, 0.86), (4343.58, 0.80), (4343.66, 0.90), (4343.74, 0.85), (4343.82, 0.93),
        (4343.90, 0.88), (4343.98, 0.84), (4344.06, 0.78), (4344.14, 0.74), (4344.22, 0.72), (4344.30, 0.77),
        (4344.38, 0.70), (4344.46, 0.66), (4344.54, 0.70), (4344.62, 0.64), (4344.70, 0.72), (4344.78, 0.55),
        (4344.86, 0.45), (4344.94, 0.35), (4345.02, 0.25), (4345.10, 0.15), (4345.16, 0.12), (4345.22, 0.20),
        (4345.30, 0.35), (4345.38, 0.50), (4345.46, 0.65), (4345.54, 0.72), (4345.62, 0.80), (4345.70, 0.85),
        (4345.78, 0.88), (4345.86, 0.92), (4345.94, 0.95), (4346.02, 0.90), (4346.10, 0.96), (4346.18, 0.93),
        (4346.26, 0.99), (4346.34, 0.94), (4346.42, 0.89), (4346.50, 0.95), (4346.58, 0.91), (4346.66, 0.97),
        (4346.74, 0.92), (4346.82, 0.98), (4346.90, 0.94), (4346.98, 0.88), (4347.06, 0.93), (4347.14, 0.85),
        (4347.22, 0.80), (4347.30, 0.86), (4347.38, 0.90), (4347.46, 0.84), (4347.54, 0.92), (4347.62, 0.88),
        (4347.70, 0.94), (4347.78, 0.90), (4347.86, 0.96), (4347.94, 0.92), (4348.02, 0.98), (4348.10, 0.95),
        (4348.13, 1.68), (4348.16, 0.96), (4348.22, 0.93), (4348.30, 0.90), (4348.38, 0.86), (4348.46, 0.92),
        (4348.54, 0.88), (4348.62, 0.83), (4348.70, 0.89), (4348.78, 0.85), (4348.86, 0.91), (4348.94, 0.86),
        (4349.02, 0.82), (4349.10, 0.90), (4349.18, 0.94), (4349.26, 0.89), (4349.34, 0.96), (4349.42, 0.91),
        (4349.50, 0.95), (4349.58, 0.90), (4349.66, 0.86), (4349.74, 0.92), (4349.82, 0.97), (4349.90, 0.93),
        (4349.98, 0.88), (4350.06, 0.94), (4350.14, 0.90), (4350.22, 0.96), (4350.30, 1.00), (4350.38, 0.92),
        (4350.46, 0.95), (4350.54, 0.89), (4350.62, 0.93), (4350.70, 0.87), (4350.78, 0.84), (4350.86, 0.90),
        (4350.94, 0.86), (4351.02, 0.82), (4351.10, 0.88), (4351.18, 0.84), (4351.26, 0.90), (4351.34, 0.85),
        (4351.42, 0.88), (4351.50, 0.83), (4351.58, 0.86), (4351.66, 0.81), (4351.74, 0.84), (4351.82, 0.80),
        (4351.90, 0.76), (4351.98, 0.72), (4352.06, 0.66), (4352.14, 0.62), (4352.22, 0.56), (4352.30, 0.52),
        (4352.38, 0.55), (4352.46, 0.55), (4352.54, 0.50), (4352.62, 0.42), (4352.70, 0.32), (4352.78, 0.22),
        (4352.86, 0.14), (4352.94, 0.15), (4353.02, 0.22), (4353.10, 0.26), (4353.18, 0.30), (4353.26, 0.28),
        (4353.34, 0.35), (4353.42, 0.45), (4353.50, 0.60), (4353.58, 0.75), (4353.66, 0.82), (4353.74, 0.78),
        (4353.80, 0.65), (4353.86, 0.05), (4353.92, 0.40), (4354.00, 0.75)]

panels = [
    (obs1, blue1, red1, lines1_wl, lines1_lab, lines1_top, lines1_labx, (4244.80, 4255.81), (-0.20, 1.85), 2),
    (obs2, blue2, red2, lines2_wl, lines2_lab, lines2_top, lines2_labx, (4285.40, 4321.07), (-0.22, 1.81), 5),
    (obs3, blue3, red3, lines3_wl, lines3_lab, lines3_top, lines3_labx, (4322.96, 4354.01), (-0.22, 1.81), 5),
]

fig = plt.figure(figsize=(8.3, 6.85), dpi=100)
gs = fig.add_gridspec(3, 1, left=0.0775, right=0.9787, bottom=0.0769, top=0.9631, hspace=0.205)

for i, (obs, blue, red, wl, lab, top, labx, xlim, ylim, step) in enumerate(panels):
    ax = fig.add_subplot(gs[i])
    for curve, col in ((blue, 'b'), (obs, 'k'), (red, 'r')):
        xy = np.array(curve)
        ax.plot(xy[:, 0], xy[:, 1], color=col, lw=1.0)
    ax.vlines(wl, 0, top, color='g', alpha=0.55, lw=1.0)
    for lx, t, s in zip(labx, top, lab):
        ax.text(lx, t + 0.01, s, ha='center', va='bottom', family=TEXT_FONT, fontsize=10)
    ax.set_xlim(*xlim)
    ax.set_ylim(*ylim)
    ax.xaxis.set_major_locator(MultipleLocator(step))
    ax.yaxis.set_major_locator(MultipleLocator(0.5))
    ax.ticklabel_format(useOffset=False)
    ax.tick_params(labelsize=10, length=2.5)
    ax.set_ylabel('Normalized Flux', family=TEXT_FONT, fontsize=10, labelpad=0)
    if i == 2:
        ax.set_xlabel('Wavelength (Å)', family=TEXT_FONT, fontsize=10, labelpad=2)

fig.savefig('out.png', dpi=100)
